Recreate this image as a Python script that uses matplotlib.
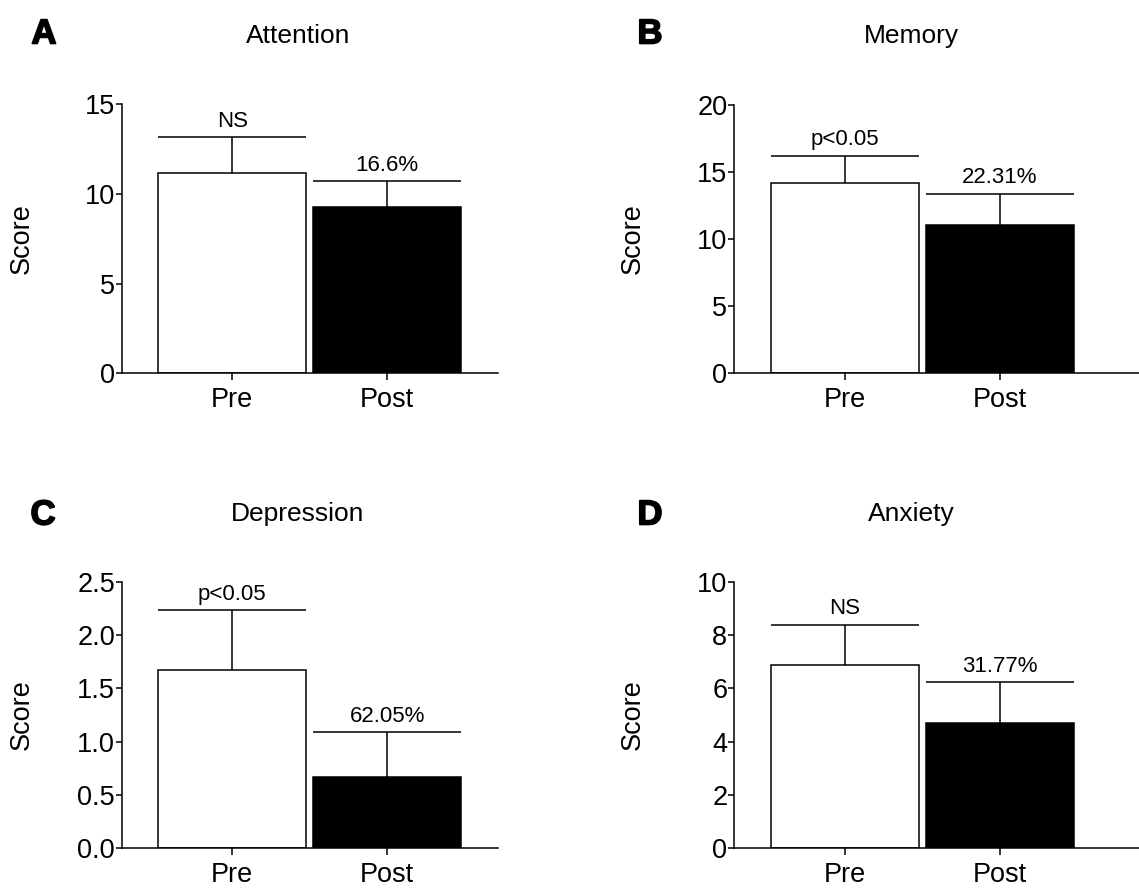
import matplotlib
matplotlib.use("Agg")
import matplotlib.pyplot as plt
import matplotlib.patheffects as pe
import numpy as np

plt.rcParams['font.family'] = ['Liberation Sans', 'DejaVu Sans']

# Group labels shared by all four panels
groups = ["Pre", "Post"]

# Mean scores and standard deviations per outcome
attention_mean = [11.15, 9.30]
attention_sd = [2.00, 1.40]
memory_mean = [14.20, 11.02]
memory_sd = [2.00, 2.36]
depression_mean = [1.67, 0.67]
depression_sd = [0.56, 0.42]
anxiety_mean = [6.88, 4.69]
anxiety_sd = [1.50, 1.54]

# Annotation above each bar
attention_notes = ["NS", "16.6%"]
memory_notes = ["p<0.05", "22.31%"]
depression_notes = ["p<0.05", "62.05%"]
anxiety_notes = ["NS", "31.77%"]

# Panel titles, letters and y ticks
titles = ["Attention", "Memory", "Depression", "Anxiety"]
letters = ["A", "B", "C", "D"]
attention_ticks = [0, 5, 10, 15]
memory_ticks = [0, 5, 10, 15, 20]
depression_ticks = [0.0, 0.5, 1.0, 1.5, 2.0, 2.5]
anxiety_ticks = [0, 2, 4, 6, 8, 10]

W, H = 1139, 888
fig = plt.figure(figsize=(W / 100, H / 100), dpi=100)
fig.patch.set_facecolor("white")

LW = 1.1
PX_PER_UNIT = 155.0
BAR_W = 0.955

panels = [
    dict(mean=attention_mean, sd=attention_sd, notes=attention_notes,
         ticks=attention_ticks, fmt="{:g}", box=(121.7, 104.3, 498, 373.3),
         title_xy=(298, 36), letter_xy=(44, 34), ylab_xy=(22, 238.8)),
    dict(mean=memory_mean, sd=memory_sd, notes=memory_notes,
         ticks=memory_ticks, fmt="{:g}", box=(734, 105, 1139, 373.3),
         title_xy=(911, 36), letter_xy=(650, 34), ylab_xy=(633, 239)),
    dict(mean=depression_mean, sd=depression_sd, notes=depression_notes,
         ticks=depression_ticks, fmt="{:.1f}", box=(121.7, 581.7, 498, 848.3),
         title_xy=(298, 514), letter_xy=(43, 515), ylab_xy=(22, 715)),
    dict(mean=anxiety_mean, sd=anxiety_sd, notes=anxiety_notes,
         ticks=anxiety_ticks, fmt="{:g}", box=(734, 581.7, 1139, 848.3),
         title_xy=(911, 514), letter_xy=(650, 515), ylab_xy=(633, 715)),
]

x = np.arange(len(groups))

for i, p in enumerate(panels):
    l, t, r, b = p["box"]
    ax = fig.add_axes([l / W, 1 - b / H, (r - l) / W, (b - t) / H])
    x0 = -0.713
    ax.set_xlim(x0, x0 + (r - l) / PX_PER_UNIT)
    ax.set_ylim(p["ticks"][0], p["ticks"][-1])

    ax.bar(x, p["mean"], width=BAR_W, color=["white", "black"],
           edgecolor="black", linewidth=LW, zorder=2)

    lower = np.zeros(len(groups))
    _, caps, _ = ax.errorbar(x, p["mean"], yerr=[lower, p["sd"]], fmt="none",
                             ecolor="black", elinewidth=LW, capthick=LW,
                             capsize=26.5 * 2, zorder=1)
    caps[0].set_visible(False)

    for xi, m, s, note in zip(x, p["mean"], p["sd"], p["notes"]):
        ax.annotate(note, (xi, m + s), xytext=(0, 4), textcoords="offset points",
                    ha="center", va="bottom", fontsize=16)

    for side in ("top", "right"):
        ax.spines[side].set_visible(False)
    for side in ("left", "bottom"):
        ax.spines[side].set_linewidth(LW)

    ax.set_yticks(p["ticks"])
    ax.set_yticklabels([p["fmt"].format(v) for v in p["ticks"]])
    ax.set_xticks(x)
    ax.set_xticklabels(groups)
    ax.tick_params(axis="y", length=4.3, width=LW, pad=0.5, labelsize=19.5)
    ax.tick_params(axis="x", length=5, width=LW, pad=5, labelsize=19.5)

    tx, ty = p["title_xy"]
    fig.text(tx / W, 1 - ty / H, titles[i], ha="center", va="center", fontsize=19)
    lx, ly = p["letter_xy"]
    fig.text(lx / W, 1 - ly / H, letters[i], ha="center", va="center",
             fontsize=25, fontweight="bold",
             path_effects=[pe.withStroke(linewidth=1.2, foreground="black")])
    yx, yy = p["ylab_xy"]
    fig.text(yx / W, 1 - yy / H, "Score", ha="center", va="center",
             rotation=90, fontsize=19.5)

fig.savefig("out.png", dpi=100, facecolor="white")
